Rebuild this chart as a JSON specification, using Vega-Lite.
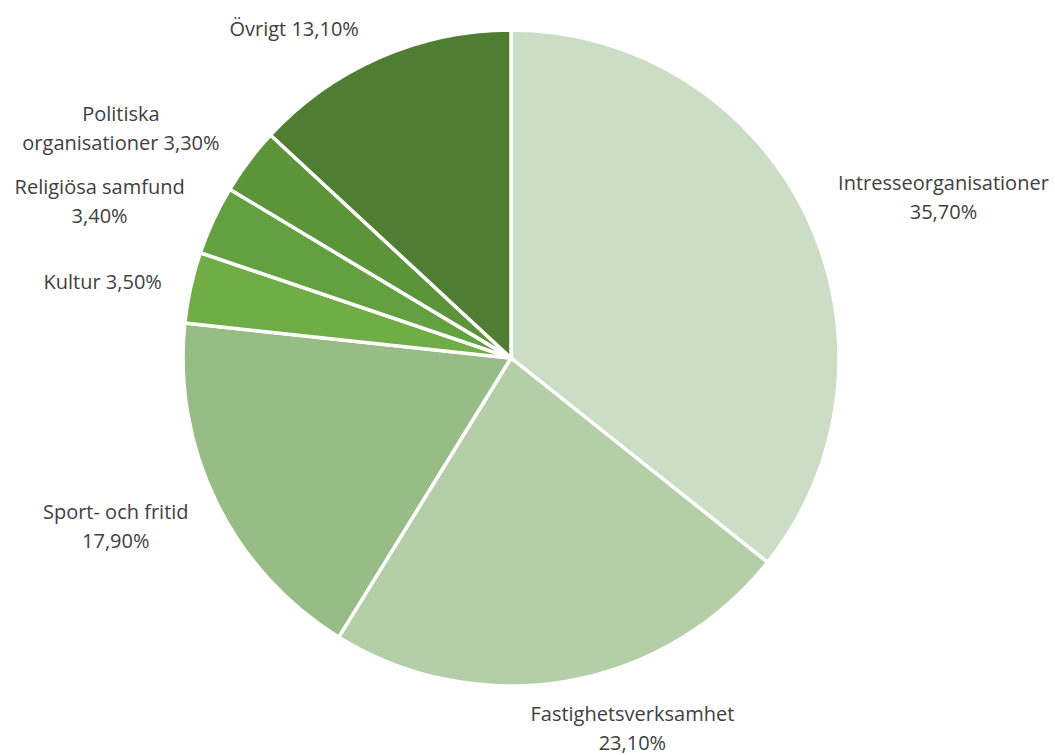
{
  "$schema": "https://vega.github.io/schema/vega-lite/v6.json",
  "width": 1022,
  "height": 716,
  "autosize": {"type": "none"},
  "padding": {"left": 0, "top": 0, "right": 33, "bottom": 39},
  "background": "white",
  "config": {"view": {"stroke": null}},
  "data": {
    "values": [
      {"rank": 1, "cat": "Intresseorganisationer", "share": 35.7, "label": "Intresseorganisationer\n35,70%"},
      {"rank": 2, "cat": "Fastighetsverksamhet", "share": 23.1, "label": "Fastighetsverksamhet\n23,10%"},
      {"rank": 3, "cat": "Sport- och fritid", "share": 17.9, "label": "Sport- och fritid\n17,90%"},
      {"rank": 4, "cat": "Kultur", "share": 3.5, "label": "Kultur 3,50%"},
      {"rank": 5, "cat": "Religiösa samfund", "share": 3.4, "label": "Religiösa samfund\n3,40%"},
      {"rank": 6, "cat": "Politiska organisationer", "share": 3.3, "label": "Politiska\norganisationer 3,30%"},
      {"rank": 7, "cat": "Övrigt", "share": 13.1, "label": "Övrigt 13,10%"}
    ]
  },
  "encoding": {
    "theta": {"field": "share", "type": "quantitative", "stack": true},
    "order": {"field": "rank", "type": "quantitative"}
  },
  "layer": [
    {
      "mark": {"type": "arc", "outerRadius": 328, "stroke": "white", "strokeWidth": 3.5},
      "encoding": {
        "color": {
          "field": "cat", "type": "nominal", "legend": null,
          "scale": {
            "domain": ["Intresseorganisationer", "Fastighetsverksamhet", "Sport- och fritid", "Kultur", "Religiösa samfund", "Politiska organisationer", "Övrigt"],
            "range": ["#CBDDC4", "#B4CEA7", "#97BC85", "#70AD47", "#63A03F", "#5B9439", "#4F7D32"]
          }
        }
      }
    },
    {
      "mark": {"type": "text", "radius": 459, "dx": 19, "dy": 25, "font": "Open Sans", "fontSize": 20, "fill": "#404040", "align": "center", "baseline": "middle", "lineBreak": "\n", "lineHeight": 29},
      "encoding": {"text": {"condition": {"test": "datum.rank == 1", "field": "label"}, "value": ""}}
    },
    {
      "mark": {"type": "text", "radius": 386, "dx": 55, "dy": -23, "font": "Open Sans", "fontSize": 20, "fill": "#404040", "align": "center", "baseline": "middle", "lineBreak": "\n", "lineHeight": 29},
      "encoding": {"text": {"condition": {"test": "datum.rank == 2", "field": "label"}, "value": ""}}
    },
    {
      "mark": {"type": "text", "radius": 429, "dx": -10, "dy": -34, "font": "Open Sans", "fontSize": 20, "fill": "#404040", "align": "center", "baseline": "middle", "lineBreak": "\n", "lineHeight": 29},
      "encoding": {"text": {"condition": {"test": "datum.rank == 3", "field": "label"}, "value": ""}}
    },
    {
      "mark": {"type": "text", "radius": 415, "dx": -3, "dy": 14, "font": "Open Sans", "fontSize": 20, "fill": "#404040", "align": "center", "baseline": "middle", "lineBreak": "\n", "lineHeight": 29},
      "encoding": {"text": {"condition": {"test": "datum.rank == 4", "field": "label"}, "value": ""}}
    },
    {
      "mark": {"type": "text", "radius": 439, "dx": -13, "dy": 14, "font": "Open Sans", "fontSize": 20, "fill": "#404040", "align": "center", "baseline": "middle", "lineBreak": "\n", "lineHeight": 29},
      "encoding": {"text": {"condition": {"test": "datum.rank == 5", "field": "label"}, "value": ""}}
    },
    {
      "mark": {"type": "text", "radius": 449, "dx": -31, "dy": 27, "font": "Open Sans", "fontSize": 20, "fill": "#404040", "align": "center", "baseline": "middle", "lineBreak": "\n", "lineHeight": 29},
      "encoding": {"text": {"condition": {"test": "datum.rank == 6", "field": "label"}, "value": ""}}
    },
    {
      "mark": {"type": "text", "radius": 387, "dx": -62, "dy": 27, "font": "Open Sans", "fontSize": 20, "fill": "#404040", "align": "center", "baseline": "middle", "lineBreak": "\n", "lineHeight": 29},
      "encoding": {"text": {"condition": {"test": "datum.rank == 7", "field": "label"}, "value": ""}}
    }
  ]
}
